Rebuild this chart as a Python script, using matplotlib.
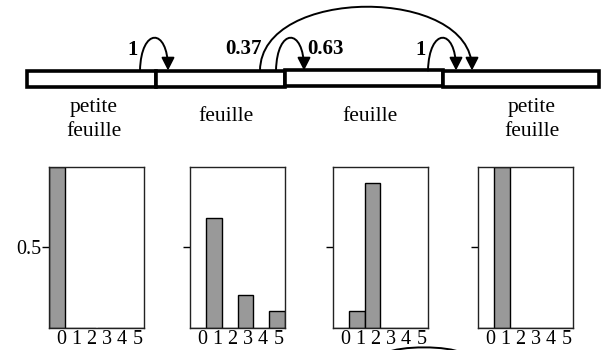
import matplotlib
matplotlib.use('Agg')
import matplotlib.pyplot as plt
from matplotlib.path import Path
from matplotlib.patches import FancyArrowPatch, Rectangle, PathPatch, ArrowStyle

plt.rcParams['font.family'] = ['Liberation Serif', 'DejaVu Serif']

# ---------------- data ----------------
states = ["0", "1", "2", "3", "4", "5"]
dist_petite_feuille_1 = [1.00, 0.00, 0.00, 0.00, 0.00, 0.00]
dist_feuille_1 = [0.00, 0.68, 0.00, 0.20, 0.00, 0.10]
dist_feuille_2 = [0.00, 0.10, 0.90, 0.00, 0.00, 0.00]
dist_petite_feuille_2 = [0.00, 1.00, 0.00, 0.00, 0.00, 0.00]
segment_labels = ["petite\nfeuille", "feuille", "feuille", "petite\nfeuille"]
transition_labels = ["1", "0.37", "0.63", "1"]
ytick_values = [0.5]
ytick_labels = ["0.5"]

distributions = [dist_petite_feuille_1, dist_feuille_1, dist_feuille_2, dist_petite_feuille_2]

# ---------------- layout (pixels) ----------------
W, H = 601, 350
fig = plt.figure(figsize=(W / 100, H / 100), dpi=100)
fig.patch.set_facecolor('white')

panel_lefts = [49, 190, 333, 478]
panel_w = 95
panel_top, panel_bottom = 167, 327.5

for k, (left, dist) in enumerate(zip(panel_lefts, distributions)):
    ax = fig.add_axes([left / W, 1 - panel_bottom / H, panel_w / W,
                       (panel_bottom - panel_top) / H])
    x = list(range(len(states)))
    ax.bar(x, dist, width=1, align='edge', color='#999999',
           edgecolor='black', linewidth=1.0)
    ax.set_xlim(0, len(states))
    ax.set_ylim(0, 1)
    ax.set_xticks([0.75 + 0.965 * i for i in x])
    ax.set_xticklabels(states)
    ax.set_yticks(ytick_values)
    ax.set_yticklabels(ytick_labels if k == 0 else [""] * len(ytick_values))
    ax.tick_params(axis='x', length=0, pad=1.5, labelsize=14.5)
    ax.tick_params(axis='y', length=5, width=1, pad=0.5, labelsize=14.5,
                   direction='out')
    for s in ax.spines.values():
        s.set_linewidth(1.0)
        s.set_color('#222222')

# ---------------- overlay diagram ----------------
ov = fig.add_axes([0, 0, 1, 1])
ov.set_xlim(0, W)
ov.set_ylim(H, 0)
ov.axis('off')

seg_edges = [27, 156, 285, 443, 599]
seg_y = [71, 71, 70, 71]
for i in range(4):
    ov.add_patch(Rectangle((seg_edges[i], seg_y[i]), seg_edges[i + 1] - seg_edges[i], 15.5,
                           facecolor='white', edgecolor='black', linewidth=2.6))

seg_text_x = [94, 226, 370, 532]
for tx, lab in zip(seg_text_x, segment_labels):
    ty = 119.5 if "\n" in lab else 116.5
    ov.text(tx, ty, lab, ha='center', va='center', fontsize=15.5,
            linespacing=1.3)

arc_specs = [(140, 168, 38), (260, 472, 7), (276, 304, 38), (428, 456, 38)]
label_pos = [(133, 50), (244, 49), (326, 49), (421, 50)]
base_y = 70.5
style = ArrowStyle('-|>', head_length=0.55, head_width=0.28)
for (x0, x1, peak) in arc_specs:
    h = (base_y - peak) / 0.75
    p = Path([(x0, base_y), (x0 + 1, base_y - h), (x1, base_y - h), (x1, base_y)],
             [Path.MOVETO, Path.CURVE4, Path.CURVE4, Path.CURVE4])
    ov.add_patch(FancyArrowPatch(path=p, arrowstyle=style, mutation_scale=14,
                                 color='black', linewidth=1.4, shrinkA=0, shrinkB=0))

for (lx, ly), lab in zip(label_pos, transition_labels):
    ov.text(lx, ly, lab, ha='center', va='center', fontsize=15, fontweight='bold')

# partial curve at bottom edge
bp = Path([(386, 353), (400, 345.5), (448, 345.5), (462, 353)],
          [Path.MOVETO, Path.CURVE4, Path.CURVE4, Path.CURVE4])
ov.add_patch(PathPatch(bp, facecolor='none', edgecolor='black', linewidth=1.4))

fig.savefig('out.png', dpi=100, facecolor='white')
